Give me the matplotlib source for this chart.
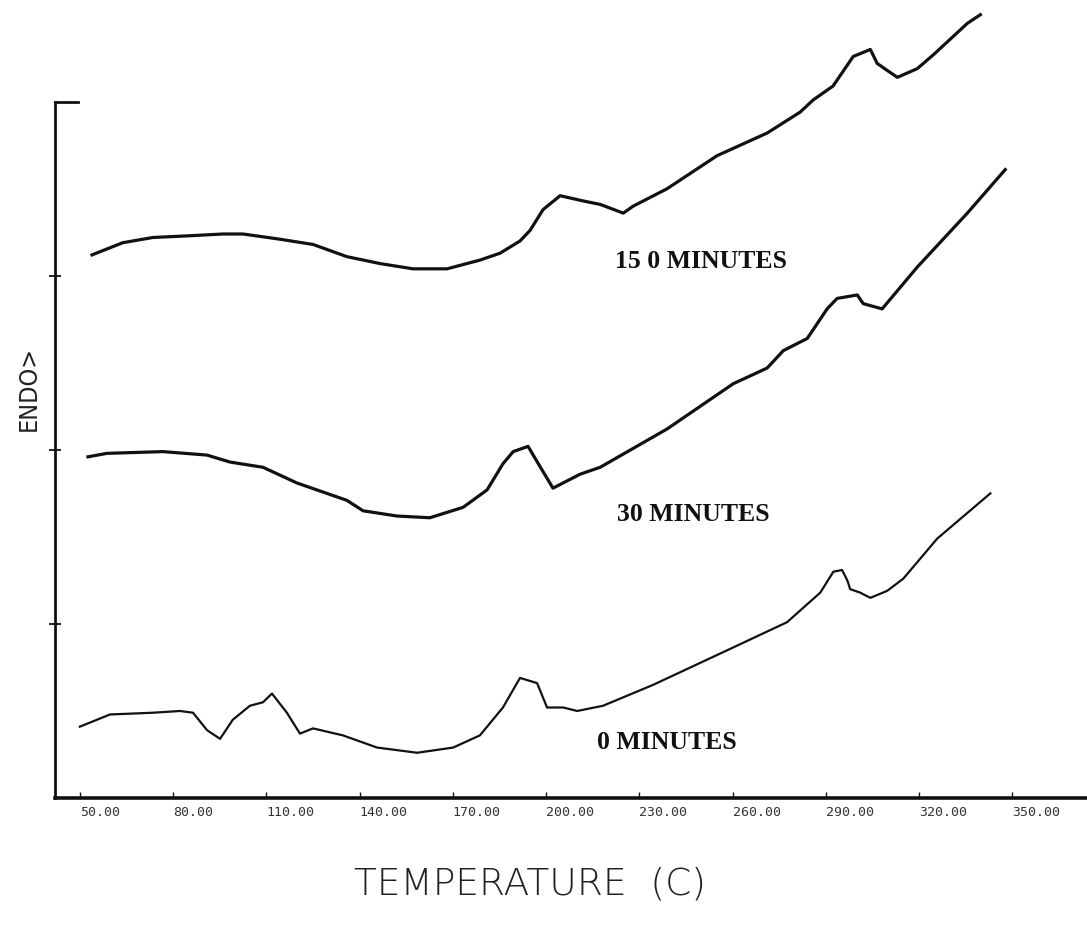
import matplotlib
matplotlib.use("Agg")
import matplotlib.pyplot as plt

# DSC traces: temperature (C) and endotherm signal (arbitrary units)
temp_15 = [53.9, 63.8, 73.5, 85.4, 96.0, 102.5, 114.4, 125.0, 135.9, 146.6,
           157.2, 168.1, 178.7, 185.2, 191.6, 194.8, 199.0, 204.5, 211.9, 217.4,
           224.8, 228.0, 238.9, 255.0, 271.1, 281.7, 285.9, 292.3, 298.8, 304.3,
           306.5, 309.7, 313.0, 319.4, 324.6, 335.5, 339.7]
endo_15 = [3.12, 3.19, 3.22, 3.23, 3.24, 3.24, 3.21, 3.18, 3.11, 3.07,
           3.04, 3.04, 3.09, 3.13, 3.20, 3.26, 3.38, 3.46, 3.43, 3.41,
           3.36, 3.40, 3.50, 3.69, 3.82, 3.94, 4.01, 4.09, 4.26, 4.30,
           4.22, 4.18, 4.14, 4.19, 4.27, 4.45, 4.50]

temp_30 = [52.6, 58.7, 76.7, 90.9, 98.3, 108.9, 119.8, 135.9, 141.1, 152.0,
           162.6, 173.3, 181.0, 186.1, 189.4, 194.2, 196.5, 202.2, 210.9, 217.4,
           238.9, 260.2, 271.1, 276.3, 284.0, 290.4, 293.6, 300.1, 302.0, 308.1,
           319.4, 335.5, 347.7]
endo_30 = [1.96, 1.98, 1.99, 1.97, 1.93, 1.90, 1.81, 1.71, 1.65, 1.62,
           1.61, 1.67, 1.77, 1.92, 1.99, 2.02, 1.95, 1.78, 1.86, 1.90,
           2.12, 2.38, 2.47, 2.57, 2.64, 2.81, 2.87, 2.89, 2.84, 2.81,
           3.05, 3.36, 3.61]

temp_0 = [50.0, 59.7, 73.5, 82.2, 86.4, 90.9, 95.1, 99.2, 104.7, 108.9,
          111.8, 116.6, 120.8, 125.0, 134.6, 145.6, 158.5, 170.1, 178.7, 186.1,
          191.6, 197.1, 200.3, 205.5, 210.0, 218.3, 234.4, 256.0, 277.5, 288.2,
          292.4, 295.2, 296.9, 297.8, 301.0, 304.3, 309.7, 314.9, 325.8, 342.9]
endo_0 = [0.41, 0.48, 0.49, 0.50, 0.49, 0.39, 0.34, 0.45, 0.53, 0.55,
          0.60, 0.49, 0.37, 0.40, 0.36, 0.29, 0.26, 0.29, 0.36, 0.52,
          0.69, 0.66, 0.52, 0.52, 0.50, 0.53, 0.65, 0.83, 1.01, 1.18,
          1.30, 1.31, 1.25, 1.20, 1.18, 1.15, 1.19, 1.26, 1.49, 1.75]

curve_labels = ["15 0 MINUTES", "30 MINUTES", "0 MINUTES"]
label_pos_temp = [222.2, 222.8, 216.4]
label_pos_endo = [3.08, 1.63, 0.32]

x_ticks = [50, 80, 110, 140, 170, 200, 230, 260, 290, 320, 350]
x_tick_labels = ["50.00", "80.00", "110.00", "140.00", "170.00", "200.00",
                 "230.00", "260.00", "290.00", "320.00", "350.00"]
y_ticks = [1, 2, 3]

fig = plt.figure(figsize=(10.87, 9.26), dpi=100)
ax = fig.add_axes([0.0506, 0.1382, 0.9494, 0.861])
ax.set_xlim(42, 374)
ax.set_ylim(0, 4.58)

ink = "#111111"
ax.plot(temp_15, endo_15, color=ink, lw=2.3, solid_joinstyle="round")
ax.plot(temp_30, endo_30, color=ink, lw=2.3, solid_joinstyle="round")
ax.plot(temp_0, endo_0, color=ink, lw=1.6, solid_joinstyle="round")

for txt, tx, ty in zip(curve_labels, label_pos_temp, label_pos_endo):
    ax.text(tx, ty, txt, family="Liberation Serif", weight="bold",
            fontsize=18.5, color=ink, ha="left", va="center")

# frame: only left and bottom axes, the left one stopping at 4
for side in ("top", "right"):
    ax.spines[side].set_visible(False)
ax.spines["left"].set_bounds(0, 4)
ax.spines["left"].set_linewidth(2.0)
ax.spines["bottom"].set_linewidth(2.6)
ax.spines["left"].set_color(ink)
ax.spines["bottom"].set_color(ink)

ax.set_yticks(y_ticks)
ax.set_yticklabels([])
ax.tick_params(axis="y", direction="inout", length=9, width=1.3, color=ink)
# longer inward mark at the top of the vertical axis
ax.plot([42, 49.5], [4, 4], color=ink, lw=2.0, clip_on=False)

ax.set_xticks(x_ticks)
ax.set_xticklabels(x_tick_labels, family="DejaVu Sans Mono", fontsize=9.5,
                   color="#333333")
ax.tick_params(axis="x", direction="in", length=4, width=1.0, color=ink, pad=6)
for lab in ax.get_xticklabels():
    lab.set_horizontalalignment("left")

fig.text(0.488, 0.026, "TEMPERATURE  (C)", family="DejaVu Sans",
         weight="light", fontsize=27, color="#222222", ha="center", va="bottom")
fig.text(0.026, 0.581, "ENDO>", family="DejaVu Sans", fontstretch="condensed",
         fontsize=18, color="#222222", rotation=90, ha="center", va="center")

fig.savefig("out.png", dpi=100)
